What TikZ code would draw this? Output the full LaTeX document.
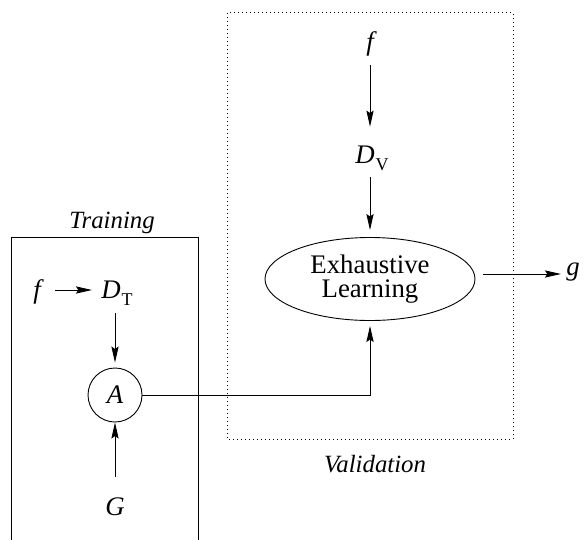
\documentclass[tikz,border=0pt]{standalone}
\usepackage{fontspec}
\setmainfont{Liberation Serif}
\usetikzlibrary{arrows.meta,shapes.geometric}
\begin{document}
\begin{tikzpicture}[x=0.5pt,y=-0.5pt,
  every node/.style={font=\fontsize{13.4}{12}\selectfont},
  lab/.style={inner sep=0pt,text height=8pt,text depth=0pt},
  arr/.style={line width=0.45pt,-{Stealth[length=8pt,width=3.6pt,inset=1.2pt]}},
  ln/.style={line width=0.45pt},
  dotbox/.style={line width=0.5pt,dash pattern=on 0.5pt off 1.5pt},
  boxlabel/.style={inner sep=0pt,anchor=base,font=\fontsize{12.4}{12}\selectfont\itshape}]
\useasboundingbox (0,0) rectangle (587,540);
% boxes
\draw[ln] (11,540) -- (11,237) -- (198,237) -- (198,540);
\draw[dotbox] (227,13) rectangle (513,439);
\node[boxlabel] (trl) at (112,228) {Training};
\node[boxlabel] (val) at (375,472) {Validation};
% training nodes
\node[lab] (fT) at (37,290) {\itshape f};
\node[lab] (DT) at (117,290) {\itshape D\kern0.5pt\raisebox{-3.5pt}{\upshape\fontsize{9}{9}\selectfont T}};
\node[draw,circle,ln,inner sep=0pt,minimum size=27pt,text height=8pt,text depth=0pt] (A) at (115,395) {\itshape A};
\node[lab] (G) at (115,507) {\itshape G};
% validation nodes
\node[lab] (fV) at (370,43) {\itshape f};
\node[lab] (DV) at (372,155) {\itshape D\kern0.5pt\raisebox{-3.5pt}{\upshape\fontsize{9}{9}\selectfont V}};
\node[draw,ellipse,ln,inner sep=0pt,minimum width=105pt,minimum height=41.5pt,align=center] (E) at (370,279) {Exhaustive\\Learning};
\node[inner sep=0pt,text height=1.5pt,text depth=0pt] (g) at (573,274) {\itshape g};
% connectors
\draw[arr,shorten <=7pt,shorten >=4.5pt] (fT) -- (DT);
\draw[arr,shorten <=7.5pt,shorten >=2.5pt] (DT.south -| A) -- (A);
\draw[arr,shorten <=11pt] (G) -- (A);
\draw[arr,shorten <=7pt,shorten >=10pt] (fV.south -| E) -- (DV.north -| E);
\draw[arr,shorten <=7pt,shorten >=3.5pt] (DV.south -| E) -- (E);
\draw[arr,shorten >=2.5pt] (A.east) -| (E.south);
\draw[arr,shorten <=4pt,shorten >=2.5pt] (E.east |- g.west) -- (g.west);
\end{tikzpicture}
\end{document}
